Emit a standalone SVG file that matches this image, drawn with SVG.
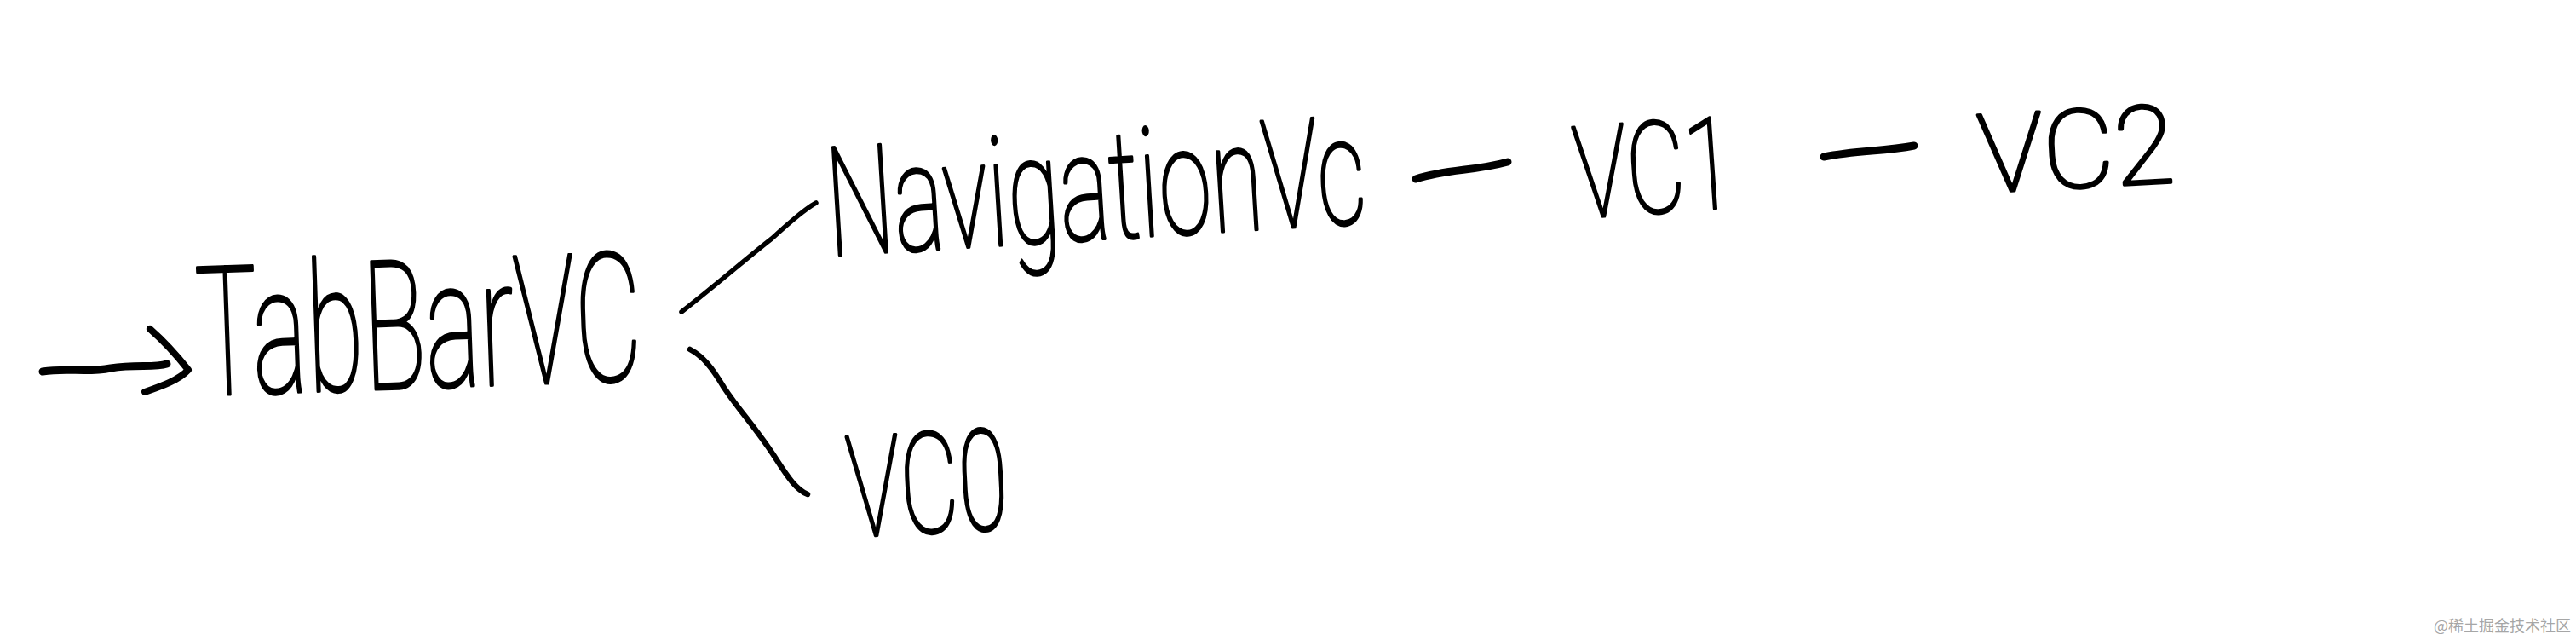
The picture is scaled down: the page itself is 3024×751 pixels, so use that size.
<svg xmlns="http://www.w3.org/2000/svg" width="3024" height="751" viewBox="0 0 3024 751">
<style>
.hand{font-family:"Roboto","DejaVu Sans","Liberation Sans",sans-serif;font-weight:100;fill:#000;stroke:#000;stroke-width:3.5;stroke-linejoin:round;}
.ln{fill:none;stroke:#000;stroke-linecap:round;stroke-linejoin:round;}
.wm{font-family:"Noto Sans CJK SC","Noto Sans",sans-serif;font-size:18px;fill:#a6a6a6;}
</style>
<rect width="3024" height="751" fill="#fff"/>
<g id="connectors">
<path class="ln" stroke-width="9" d="M50,436 C80,431 100,438 130,432 C160,427 180,432 196,427"/>
<path class="ln" stroke-width="8" d="M176,386 C192,400 210,420 221,434 C210,446 190,453 170,460"/>
<path class="ln" stroke-width="5.5" d="M800,366 C840,335 880,300 906,280 C930,258 945,245 958,238"/>
<path class="ln" stroke-width="6.5" d="M810,410 C825,418 835,430 850,455 C870,485 890,505 912,540 C925,560 935,575 948,580"/>
<path class="ln" stroke-width="9" d="M1662,210 C1700,198 1730,201 1770,190"/>
<path class="ln" stroke-width="9" d="M2141,184 C2180,176 2210,178 2247,171"/>
</g>
<g id="node-tabbarvc"><text class="hand" x="233" y="464" font-size="211" textLength="523" lengthAdjust="spacingAndGlyphs" transform="rotate(-2 233 464)">TabBarVC</text></g>
<g id="node-navigationvc"><text class="hand" x="974" y="300" font-size="178" textLength="633" lengthAdjust="spacingAndGlyphs" transform="rotate(-3.5 974 300)">NavigationVc</text></g>
<g id="node-vc1"><text class="hand" x="1851" y="256" font-size="150" textLength="188" lengthAdjust="spacingAndGlyphs" transform="rotate(-4 1851 256)">VC1</text></g>
<g id="node-vc2"><text class="hand" x="2324" y="226" font-size="128" textLength="231" lengthAdjust="spacingAndGlyphs" transform="rotate(-3 2324 226)">VC2</text></g>
<g id="node-vc0"><text class="hand" x="997" y="630" font-size="165" textLength="189" lengthAdjust="spacingAndGlyphs" transform="rotate(-3 997 630)">VC0</text></g>
<text class="wm" x="2857" y="741">@稀土掘金技术社区</text>
</svg>
